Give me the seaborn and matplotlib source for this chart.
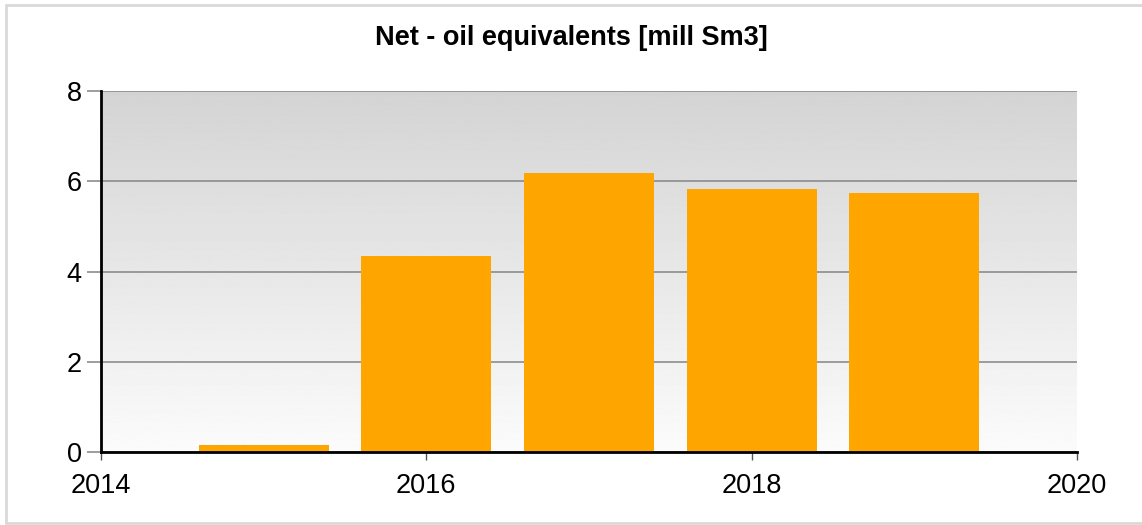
import numpy as np
import pandas as pd
import matplotlib
matplotlib.use("Agg")
import matplotlib.pyplot as plt
import seaborn as sns

years = [2015, 2016, 2017, 2018, 2019]
values = [0.15, 4.35, 6.18, 5.83, 5.74]
x_ticks = [2014, 2016, 2018, 2020]
y_ticks = [0, 2, 4, 6, 8]
title = "Net - oil equivalents [mill Sm3]"

sns.set_theme(style="white")
plt.rcParams['font.family'] = ['Liberation Sans', 'DejaVu Sans']

fig = plt.figure(figsize=(11.42, 5.25), dpi=100)
ax = fig.add_axes([101/1142, 1-452/525, (1077-101)/1142, (452-91)/525])

# gradient background (dark at top, light at bottom)
grad = np.linspace(0.985, 0.83, 256).reshape(-1, 1)
ax.imshow(grad, cmap="gray", vmin=0, vmax=1, aspect="auto", origin="lower",
          extent=[0, 1, 0, 1], transform=ax.transAxes, zorder=0)

df = pd.DataFrame({"year": years, "value": values})
sns.barplot(data=df, x="year", y="value", native_scale=True, color="#FFA500",
            saturation=1, width=0.8, ax=ax, zorder=3, linewidth=0, edgecolor="none")

ax.set_xlim(2014, 2020)
ax.set_ylim(0, 8)
ax.set_xticks(x_ticks)
ax.set_yticks(y_ticks)
ax.set_xticklabels([str(t) for t in x_ticks])
ax.set_yticklabels([str(t) for t in y_ticks])
ax.set_xlabel("")
ax.set_ylabel("")

ax.yaxis.grid(True, color="#8c8c8c", linewidth=1.2, zorder=1)
ax.set_axisbelow(True)
for s in ["top", "right"]:
    ax.spines[s].set_visible(False)
for s in ["left", "bottom"]:
    ax.spines[s].set_color("black")
    ax.spines[s].set_linewidth(2)
    ax.spines[s].set_zorder(5)

ax.tick_params(axis="y", which="both", left=True, length=10, width=1.2,
               color="#8c8c8c", labelsize=19.5, pad=4, labelcolor="black")
ax.tick_params(axis="x", which="both", bottom=True, length=6, width=1,
               color="#555555", labelsize=19.5, pad=9, labelcolor="black")

fig.text(0.5, 1-38/525, title, ha="center", va="center",
         fontsize=19.5, fontweight="bold", color="black")

# outer border (top, left, bottom)
from matplotlib.lines import Line2D
bx0, by_top, by_bot = 6/1142, 1-5/525, 1-523/525
for xs, ys in [([bx0, 1.0], [by_top, by_top]),
               ([bx0, bx0], [by_top, by_bot]),
               ([bx0, 1.0], [by_bot, by_bot])]:
    fig.add_artist(Line2D(xs, ys, transform=fig.transFigure,
                          color="#d9d9d9", linewidth=2))

fig.savefig("out.png", dpi=100)
